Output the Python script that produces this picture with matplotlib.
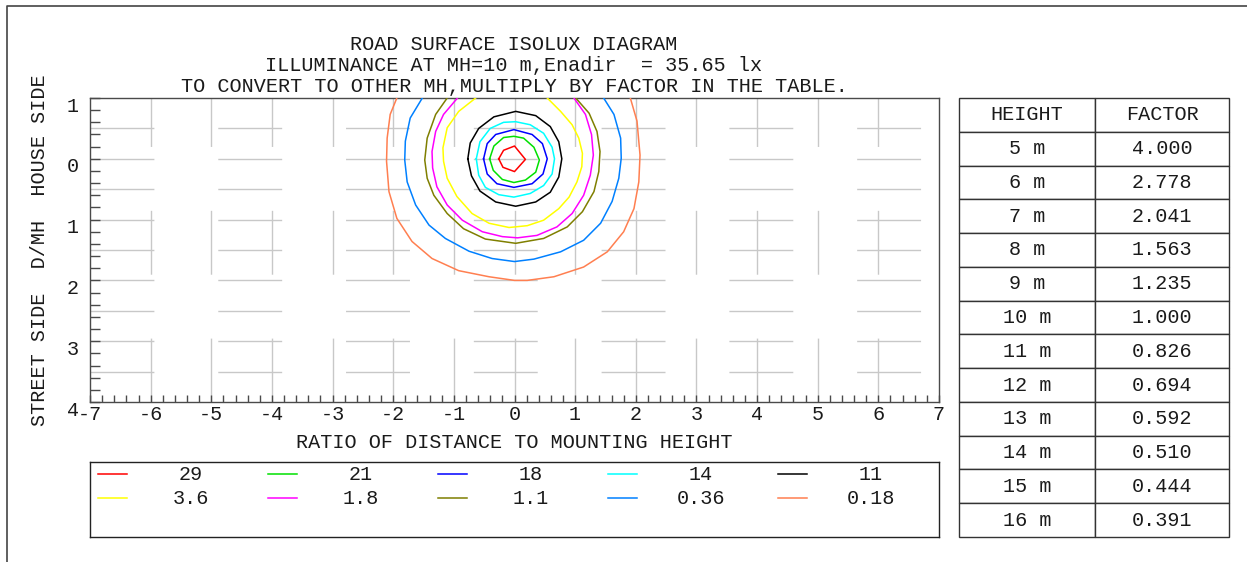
import matplotlib
matplotlib.use("Agg")
import matplotlib.pyplot as plt
from matplotlib.lines import Line2D
from matplotlib.ticker import MultipleLocator
from matplotlib.transforms import ScaledTranslation

plt.rcParams['font.family'] = ['Liberation Mono', 'DejaVu Sans']
plt.rcParams['axes.unicode_minus'] = False

# isolux levels (lx) and their line colours
levels = ['29', '21', '18', '14', '11', '3.6', '1.8', '1.1', '0.36', '0.18']
colors = ['#ff0000', '#00e000', '#0000ff', '#00ffff', '#000000',
          '#ffff00', '#ff00ff', '#7f7f00', '#0080ff', '#ff7f50']

# contour points, (D/MH along road, D/MH across road)
iso_29 = [(-0.26, 0.00), (-0.18, -0.14), (0.00, -0.21), (0.18, 0.01), (0.00, 0.21), (-0.19, 0.14), (-0.26, 0.00)]
iso_21 = [(-0.41, 0.00), (-0.34, -0.21), (-0.18, -0.35), (-0.01, -0.37), (0.15, -0.34), (0.32, -0.19),
          (0.41, 0.02), (0.35, 0.22), (0.18, 0.35), (-0.01, 0.39), (-0.20, 0.34), (-0.35, 0.19), (-0.41, 0.00)]
iso_18 = [(-0.51, 0.00), (-0.45, -0.25), (-0.31, -0.40), (-0.01, -0.48), (0.29, -0.40), (0.46, -0.25),
          (0.54, 0.00), (0.47, 0.25), (0.29, 0.41), (-0.01, 0.47), (-0.29, 0.41), (-0.45, 0.25), (-0.51, 0.00)]
iso_14 = [(-0.63, 0.00), (-0.57, -0.28), (-0.40, -0.50), (-0.18, -0.60), (0.02, -0.61), (0.26, -0.56),
          (0.48, -0.42), (0.62, -0.19), (0.66, 0.00), (0.62, 0.25), (0.48, 0.44), (0.26, 0.57),
          (-0.01, 0.63), (-0.26, 0.59), (-0.48, 0.47), (-0.59, 0.27), (-0.63, 0.00)]
iso_11 = [(-0.77, 0.00), (-0.73, -0.26), (-0.59, -0.50), (-0.34, -0.69), (0.02, -0.78), (0.35, -0.71),
          (0.59, -0.53), (0.73, -0.28), (0.78, 0.00), (0.73, 0.30), (0.59, 0.55), (0.35, 0.71),
          (0.02, 0.78), (-0.31, 0.71), (-0.57, 0.53), (-0.71, 0.28), (-0.77, 0.00)]
iso_3_6 = [(-0.64, -1.00), (-0.92, -0.78), (-1.11, -0.51), (-1.18, -0.18), (-1.17, 0.04), (-1.11, 0.32),
           (-0.95, 0.62), (-0.70, 0.90), (-0.42, 1.06), (-0.09, 1.13), (0.21, 1.10), (0.48, 1.01),
           (0.73, 0.82), (0.90, 0.63), (1.03, 0.38), (1.11, 0.13), (1.12, -0.09), (1.06, -0.34),
           (0.95, -0.56), (0.76, -0.78), (0.54, -1.00)]
iso_1_8 = [(-0.94, -1.00), (-1.17, -0.73), (-1.30, -0.45), (-1.36, -0.12), (-1.35, 0.15), (-1.28, 0.46),
           (-1.11, 0.76), (-0.86, 1.01), (-0.53, 1.20), (-0.20, 1.28), (0.05, 1.30), (0.37, 1.26),
           (0.70, 1.12), (0.95, 0.90), (1.14, 0.60), (1.25, 0.27), (1.30, -0.06), (1.27, -0.40),
           (1.17, -0.73), (0.98, -1.00)]
iso_1_1 = [(-1.11, -1.00), (-1.30, -0.73), (-1.44, -0.34), (-1.48, 0.02), (-1.44, 0.32), (-1.33, 0.60),
           (-1.11, 0.90), (-0.84, 1.15), (-0.48, 1.32), (0.02, 1.39), (0.48, 1.31), (0.87, 1.12),
           (1.12, 0.87), (1.31, 0.54), (1.39, 0.21), (1.41, -0.12), (1.36, -0.45), (1.23, -0.75),
           (1.01, -1.00)]
iso_0_36 = [(-1.52, -1.00), (-1.72, -0.67), (-1.80, -0.29), (-1.81, 0.02), (-1.77, 0.38), (-1.63, 0.76),
            (-1.41, 1.09), (-1.14, 1.31), (-0.75, 1.52), (-0.37, 1.64), (0.00, 1.69), (0.32, 1.65),
            (0.76, 1.53), (1.14, 1.34), (1.42, 1.06), (1.61, 0.70), (1.72, 0.32), (1.76, -0.01),
            (1.75, -0.34), (1.64, -0.73), (1.47, -1.00)]
iso_0_18 = [(-1.94, -1.00), (-2.05, -0.73), (-2.10, -0.34), (-2.11, 0.04), (-2.07, 0.54), (-1.94, 0.98),
            (-1.69, 1.36), (-1.36, 1.64), (-0.92, 1.84), (-0.42, 1.94), (0.00, 2.00), (0.21, 2.00),
            (0.65, 1.94), (1.14, 1.78), (1.53, 1.53), (1.80, 1.20), (1.97, 0.82), (2.05, 0.38),
            (2.07, -0.06), (2.02, -0.62), (1.91, -1.00)]
contours = [iso_29, iso_21, iso_18, iso_14, iso_11, iso_3_6, iso_1_8, iso_1_1, iso_0_36, iso_0_18]

x_ticks = [-7, -6, -5, -4, -3, -2, -1, 0, 1, 2, 3, 4, 5, 6, 7]
y_ticks = [-1, 0, 1, 2, 3, 4]
y_tick_labels = ['1', '0', '1', '2', '3', '4']

heights = [5, 6, 7, 8, 9, 10, 11, 12, 13, 14, 15, 16]
factors = [4.000, 2.778, 2.041, 1.563, 1.235, 1.000, 0.826, 0.694, 0.592, 0.510, 0.444, 0.391]

W, H = 1247, 562
FS = 14.5
TXT = '#1a1a1a'
EDGE = '#4a4a4a'

fig = plt.figure(figsize=(W / 100, H / 100), dpi=100)

# outer frame (top and left only visible)
fig.add_artist(Line2D([7 / W, 7 / W, 1.0], [0.0, 1 - 5.5 / H, 1 - 5.5 / H], color='#444444', lw=1.2))

# titles
for i, t in enumerate(['ROAD SURFACE ISOLUX DIAGRAM',
                       'ILLUMINANCE AT MH=10 m,Enadir  = 35.65 lx',
                       'TO CONVERT TO OTHER MH,MULTIPLY BY FACTOR IN THE TABLE.']):
    fig.text(514 / W, 1 - (44 + 21.5 * i) / H, t, ha='center', va='center', fontsize=FS, color=TXT)

# main diagram
ax = fig.add_axes([90 / W, 1 - 402 / H, 849 / W, 304 / H])
ax.set_xlim(-7, 7)
ax.set_ylim(4, -1)

# long-dash grid, ~64 px on / 64 px off
for x in x_ticks[1:-1]:
    ax.plot([x, x], [4, -1], color='#c8c8c8', lw=1.0, dashes=(46, 46), zorder=1)
for k in range(1, 10):
    y = -1 + 0.5 * k
    ax.plot([-7, 7], [y, y], color='#c8c8c8', lw=1.0, dashes=(46, 46), zorder=1)

for pts, c in zip(contours, colors):
    xs = [p[0] for p in pts]
    ys = [p[1] for p in pts]
    ax.plot(xs, ys, color=c, lw=1.1, zorder=3)

ax.set_xticks(x_ticks)
ax.set_yticks(y_ticks)
ax.set_yticklabels(y_tick_labels)
ax.xaxis.set_minor_locator(MultipleLocator(0.2))
ax.yaxis.set_minor_locator(MultipleLocator(0.2))
ax.tick_params(axis='x', which='both', direction='in', length=5, width=1, color=EDGE,
               labelsize=FS, labelcolor=TXT, pad=2)
ax.tick_params(axis='y', which='both', direction='in', length=7.2, width=1, color=EDGE,
               labelsize=FS, labelcolor=TXT, pad=8)
for lab in ax.get_yticklabels():
    lab.set_transform(lab.get_transform() + ScaledTranslation(0, -0.06, fig.dpi_scale_trans))
for s in ax.spines.values():
    s.set_color(EDGE)
    s.set_linewidth(1.0)

fig.text(514 / W, 1 - 442 / H, 'RATIO OF DISTANCE TO MOUNTING HEIGHT', ha='center', va='center',
         fontsize=FS, color=TXT)
fig.text(40 / W, 1 - 250 / H, 'STREET SIDE  D/MH  HOUSE SIDE', ha='center', va='center',
         rotation=90, fontsize=FS, color=TXT)

# legend box
lg = fig.add_axes([90 / W, 1 - 537 / H, 849 / W, 75 / H])
lg.set_xlim(0, 849)
lg.set_ylim(75, 0)
lg.set_xticks([])
lg.set_yticks([])
for s in lg.spines.values():
    s.set_color('#222222')
    s.set_linewidth(1.0)
for i, (lev, c) in enumerate(zip(levels, colors)):
    col, row = i % 5, i // 5
    y = 12 + 24 * row
    x0 = 8 + 170 * col
    lg.plot([x0, x0 + 29], [y, y], color=c, lw=1.1)
    lg.text(101 + 170 * col, y, lev, ha='center', va='center', fontsize=FS, color=TXT)

# conversion table
tb = fig.add_axes([959 / W, 1 - 537 / H, 270 / W, 439 / H])
tb.axis('off')
cells = [[f'{h} m', f'{f:.3f}'] for h, f in zip(heights, factors)]
table = tb.table(cellText=cells, colLabels=['HEIGHT', 'FACTOR'], cellLoc='center',
                 bbox=[0, 0, 1, 1], colWidths=[136 / 270, 134 / 270])
table.auto_set_font_size(False)
table.set_fontsize(FS)
for cell in table.get_celld().values():
    cell.set_edgecolor('#333333')
    cell.set_linewidth(1.0)
    cell.get_text().set_color(TXT)

fig.savefig('out.png', dpi=100)
